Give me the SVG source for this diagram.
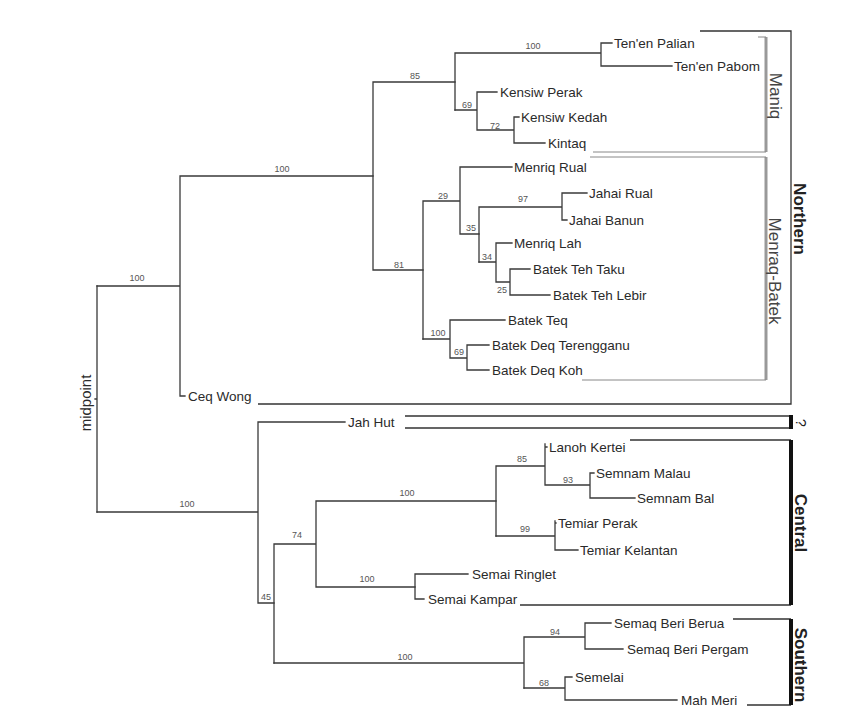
<svg xmlns="http://www.w3.org/2000/svg" width="848" height="727" viewBox="0 0 848 727">
<style>
.br{fill:none;stroke:#3a3a3a;stroke-width:1.3;stroke-linecap:square}
.lf{font-family:"Liberation Sans",Arial,sans-serif;font-size:13.5px;fill:#2a2a2a}
.bs{font-family:"Liberation Sans",Arial,sans-serif;font-size:9px;fill:#555;text-anchor:middle}
.grp{font-family:"Liberation Sans",Arial,sans-serif;font-size:17px;fill:#444;text-anchor:middle}
.grb{font-family:"Liberation Sans",Arial,sans-serif;font-size:17px;font-weight:bold;fill:#222;text-anchor:middle}
.bk{fill:none;stroke:#333;stroke-width:1.3}
.gb{fill:none;stroke:#999;stroke-width:3}
.gl{fill:none;stroke:#888;stroke-width:1}
.tb{fill:none;stroke:#111;stroke-width:4}
</style>
<rect x="0" y="0" width="848" height="727" fill="#fff"/>
<g id="connectors">
<path class="br" d="M97,286 V512 M95,399 H97"/>
<path class="br" d="M97,286 H180 M180,176 V396 H185 M180,176 H373"/>
<path class="br" d="M373,82 V270 M373,82 H455 M373,270 H423"/>
<path class="br" d="M455,53 V110 M455,53 H601 M601,43 V66 M601,43 H612 M601,66 H672"/>
<path class="br" d="M455,110 H477 M477,92 V130 M477,92 H497 M477,130 H514 M514,117 V143 M514,117 H519 M514,143 H545"/>
<path class="br" d="M423,201 V339 M423,201 H460 M460,167 V234 M460,167 H512 M460,234 H479"/>
<path class="br" d="M479,207 V262 M479,207 H562 M562,193 V220 M562,193 H587 M562,220 H567"/>
<path class="br" d="M479,262 H496 M496,243 V282 M496,243 H512 M496,282 H510 M510,269 V295 M510,269 H530 M510,295 H550"/>
<path class="br" d="M423,339 H450 M450,320 V358 M450,320 H505 M450,358 H467 M467,345 V370 M467,345 H489 M467,370 H489"/>
<path class="br" d="M97,512 H258 M258,422 V603 M258,422 H345 M258,603 H274"/>
<path class="br" d="M274,544 V663 M274,544 H316 M316,501 V587 M316,501 H496 M316,587 H415"/>
<path class="br" d="M496,466 V536 M496,466 H545 M545,444 V485 M545,447 H547 M545,485 H590 M590,473 V498 M590,473 H594 M590,498 H635"/>
<path class="br" d="M496,536 H555 M555,521 V550 M555,523 H556 M555,550 H578"/>
<path class="br" d="M415,574 V599 M415,574 H468 M415,599 H424"/>
<path class="br" d="M274,663 H524 M524,637 V688 M524,637 H585 M585,623 V649 M585,623 H611 M585,649 H623"/>
<path class="br" d="M524,688 H565 M565,677 V700 M565,677 H572 M565,700 H677"/>
</g>
<g id="brackets">
<path class="bk" d="M700,31 H791 V404 H258"/>
<path class="gb" d="M766,37 V152 M766,157 V380"/>
<path class="gl" d="M758,37 H766 M593,152 H766 M590,157 H766 M582,380 H766"/>
<path class="bk" d="M405,416 H791 M405,428 H791"/>
<path class="tb" d="M791,415 V429"/>
<path class="bk" d="M630,440 H791 M520,605 H791 M733,619 H791 M747,705 H791"/>
<path class="tb" d="M791,440 V605 M791,619 V705"/>
</g>
<g id="bootstrap">
<text class="bs" x="137" y="281">100</text>
<text class="bs" x="282" y="172">100</text>
<text class="bs" x="415" y="79">85</text>
<text class="bs" x="533" y="49">100</text>
<text class="bs" x="467" y="108">69</text>
<text class="bs" x="495" y="129">72</text>
<text class="bs" x="399" y="268">81</text>
<text class="bs" x="443" y="199">29</text>
<text class="bs" x="471" y="231">35</text>
<text class="bs" x="523" y="202">97</text>
<text class="bs" x="487" y="260">34</text>
<text class="bs" x="502" y="293">25</text>
<text class="bs" x="438" y="336">100</text>
<text class="bs" x="459" y="355">69</text>
<text class="bs" x="187" y="507">100</text>
<text class="bs" x="297" y="538">74</text>
<text class="bs" x="266" y="600">45</text>
<text class="bs" x="407" y="496">100</text>
<text class="bs" x="367" y="582">100</text>
<text class="bs" x="522" y="462">85</text>
<text class="bs" x="568" y="483">93</text>
<text class="bs" x="525" y="532">99</text>
<text class="bs" x="405" y="660">100</text>
<text class="bs" x="555" y="635">94</text>
<text class="bs" x="544" y="686">68</text>
</g>
<g id="leaves">
<text class="lf" x="614" y="48">Ten'en Palian</text>
<text class="lf" x="674" y="71">Ten'en Pabom</text>
<text class="lf" x="500" y="97">Kensiw Perak</text>
<text class="lf" x="521" y="122">Kensiw Kedah</text>
<text class="lf" x="548" y="148">Kintaq</text>
<text class="lf" x="514" y="172">Menriq Rual</text>
<text class="lf" x="589" y="198">Jahai Rual</text>
<text class="lf" x="569" y="225">Jahai Banun</text>
<text class="lf" x="514" y="248">Menriq Lah</text>
<text class="lf" x="533" y="274">Batek Teh Taku</text>
<text class="lf" x="553" y="300">Batek Teh Lebir</text>
<text class="lf" x="508" y="325">Batek Teq</text>
<text class="lf" x="492" y="350">Batek Deq Terengganu</text>
<text class="lf" x="492" y="375">Batek Deq Koh</text>
<text class="lf" x="188" y="401">Ceq Wong</text>
<text class="lf" x="348" y="427">Jah Hut</text>
<text class="lf" x="549" y="452">Lanoh Kertei</text>
<text class="lf" x="596" y="478">Semnam Malau</text>
<text class="lf" x="637" y="503">Semnam Bal</text>
<text class="lf" x="558" y="528">Temiar Perak</text>
<text class="lf" x="580" y="555">Temiar Kelantan</text>
<text class="lf" x="472" y="579">Semai Ringlet</text>
<text class="lf" x="428" y="604">Semai Kampar</text>
<text class="lf" x="614" y="628">Semaq Beri Berua</text>
<text class="lf" x="627" y="654">Semaq Beri Pergam</text>
<text class="lf" x="575" y="682">Semelai</text>
<text class="lf" x="681" y="705">Mah Meri</text>
</g>
<g id="groups">
<text class="grp" transform="translate(770,96) rotate(90)">Maniq</text>
<text class="grp" transform="translate(769,271) rotate(90)">Menraq-Batek</text>
<text class="grb" transform="translate(794,219) rotate(90)">Northern</text>
<text class="grb" transform="translate(796,423) rotate(90)" style="font-weight:normal;font-size:14px">?</text>
<text class="grb" transform="translate(795,523) rotate(90)">Central</text>
<text class="grb" transform="translate(795,665) rotate(90)">Southern</text>
<text class="lf" transform="translate(91,403) rotate(-90)" text-anchor="middle" style="font-size:15px">midpoint</text>
</g>
</svg>
